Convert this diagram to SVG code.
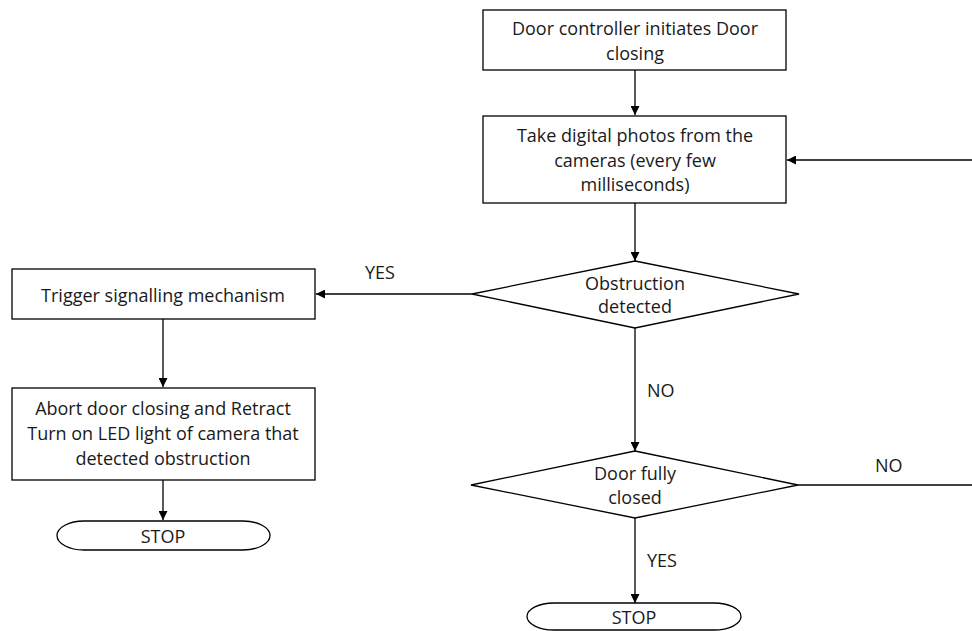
<svg xmlns="http://www.w3.org/2000/svg" width="972" height="631" viewBox="0 0 972 631">
<defs>
<marker id="ah" viewBox="0 0 10 10" refX="10" refY="5" markerWidth="9" markerHeight="9" markerUnits="userSpaceOnUse" orient="auto">
<path d="M0,0 L10,5 L0,10 z" fill="#000"/>
</marker>
<style>
.s{fill:#fff;stroke:#000;stroke-width:1.3}
.t{font-family:"Open Sans","Liberation Sans",sans-serif;font-size:18px;fill:#1a1a1a;text-anchor:middle}
.l{font-family:"Open Sans","Liberation Sans",sans-serif;font-size:18px;fill:#1a1a1a}
.c{fill:none;stroke:#000;stroke-width:1.3}
</style>
</defs>
<rect width="972" height="631" fill="#fff"/>
<g id="connectors">
<line class="c" x1="635" y1="70" x2="635" y2="115" marker-end="url(#ah)"/>
<line class="c" x1="972" y1="160" x2="787" y2="160" marker-end="url(#ah)"/>
<line class="c" x1="635" y1="203" x2="635" y2="261" marker-end="url(#ah)"/>
<line class="c" x1="472" y1="294" x2="316" y2="294" marker-end="url(#ah)"/>
<text class="l" x="365" y="279">YES</text>
<line class="c" x1="163" y1="319" x2="163" y2="387" marker-end="url(#ah)"/>
<line class="c" x1="163" y1="480" x2="163" y2="520" marker-end="url(#ah)"/>
<line class="c" x1="635" y1="328" x2="635" y2="451" marker-end="url(#ah)"/>
<text class="l" x="647" y="397">NO</text>
<line class="c" x1="798" y1="485" x2="972" y2="485"/>
<text class="l" x="875" y="472">NO</text>
<line class="c" x1="635" y1="518" x2="635" y2="603" marker-end="url(#ah)"/>
<text class="l" x="647" y="567">YES</text>
</g>
<g id="n1">
<rect class="s" x="483" y="10" width="303" height="60"/>
<text class="t" x="635" y="35">Door controller initiates Door</text>
<text class="t" x="635" y="60">closing</text>
</g>
<g id="n2">
<rect class="s" x="483" y="116" width="303" height="87"/>
<text class="t" x="635" y="142">Take digital photos from the</text>
<text class="t" x="635" y="167">cameras (every few</text>
<text class="t" x="635" y="191">milliseconds)</text>
</g>
<g id="d1">
<polygon class="s" points="635,261 799,294 635,328 472,294"/>
<text class="t" x="635" y="290">Obstruction</text>
<text class="t" x="635" y="313">detected</text>
</g>
<g id="n3">
<rect class="s" x="12" y="269" width="303" height="50"/>
<text class="t" x="163" y="302">Trigger signalling mechanism</text>
</g>
<g id="n4">
<rect class="s" x="12" y="388" width="303" height="92"/>
<text class="t" x="163" y="415">Abort door closing and Retract</text>
<text class="t" x="163" y="440">Turn on LED light of camera that</text>
<text class="t" x="163" y="465">detected obstruction</text>
</g>
<g id="stop1">
<path class="s" d="M84,521 L243,521 A27,14.5 0 0 1 243,550 L84,550 A27,14.5 0 0 1 84,521 z"/>
<text class="t" x="163" y="543">STOP</text>
</g>
<g id="d2">
<polygon class="s" points="635,451 798,485 635,518 471,485"/>
<text class="t" x="635" y="480">Door fully</text>
<text class="t" x="635" y="504">closed</text>
</g>
<g id="stop2">
<path class="s" d="M554,603 L714,603 A27,13.5 0 0 1 714,630 L554,630 A27,13.5 0 0 1 554,603 z"/>
<text class="t" x="634" y="624">STOP</text>
</g>
</svg>
